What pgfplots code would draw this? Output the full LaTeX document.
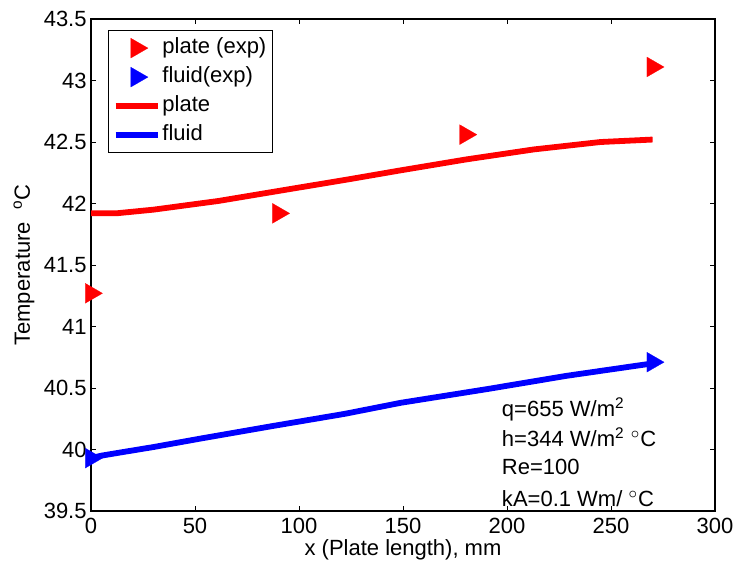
\documentclass[border=0pt]{standalone}
\usepackage{pgfplots}
\usepackage{pgfplotstable}
\pgfplotsset{compat=1.18}
\usepackage{fontspec}
\setmainfont{Liberation Sans}

\newcommand{\fs}{\fontsize{11}{13}\selectfont}

% simulated plate temperature along the plate
\pgfplotstableread{
x T
0   41.92
12  41.92
30  41.95
61  42.02
93  42.11
125 42.20
149 42.27
181 42.36
213 42.44
245 42.50
270 42.52
}\platesim

% simulated fluid temperature along the plate
\pgfplotstableread{
x T
0   39.93
5   39.95
12  39.97
30  40.02
53  40.09
87  40.19
122 40.29
149 40.38
190 40.49
229 40.60
270 40.70
}\fluidsim

% measured temperatures
\pgfplotstableread{
x T
0   41.27
90  41.92
180 42.56
270 43.11
}\plateexp

\pgfplotstableread{
x T
0   39.93
270 40.71
}\fluidexp

\pgfplotsset{
  wide legend/.style={legend image code/.code={%
    \draw[mark repeat=2,mark phase=2,##1] plot coordinates {(0pt,0pt) (10.5pt,0pt) (21pt,0pt)};}},
  tri mark/.style={only marks, mark=triangle*, mark size=5.75pt,
    mark options={rotate=-90, solid, line width=0.1pt, draw=#1, fill=#1}, color=#1},
}

\begin{document}
\begin{tikzpicture}
\begin{axis}[
  at={(0pt,0pt)}, anchor=south west,
  width=312pt, height=246pt, scale only axis,
  xmin=0, xmax=300, ymin=39.5, ymax=43.5,
  xtick={0,50,...,300},
  ytick={39.5,40,40.5,41,41.5,42,42.5,43,43.5},
  tick align=inside, xtick pos=both, ytick pos=both,
  major tick length=2.5pt,
  axis line style={line width=0.6pt},
  every tick/.style={black, line width=0.5pt},
  tick label style={font=\fs},
  /pgf/number format/assume math mode=true,
  yticklabel style={inner xsep=2pt},
  xlabel={x (Plate length), mm},
  ylabel={Temperature\ \ \textsuperscript{o}C},
  every axis x label/.style={at={(axis description cs:0.5,0)}, yshift=-19.5pt, anchor=center, font=\fs},
  every axis y label/.style={at={(axis description cs:0,0.5)}, xshift=-33.5pt, rotate=90, anchor=center, font=\fs},
  clip=false,
  legend cell align=left,
  legend style={at={(rel axis cs:0,1)}, anchor=north west, xshift=8.5pt, yshift=-5.5pt,
    draw=black, line width=0.6pt, inner xsep=2pt, inner ysep=1.5pt, row sep=0pt,
    font=\fs, nodes={inner sep=1pt, text height=9pt, text depth=3.5pt}},
]
\addplot[tri mark=red, wide legend] table[x=x, y=T] {\plateexp};
\addlegendentry{plate (exp)}
\addplot[tri mark=blue, wide legend] table[x=x, y=T] {\fluidexp};
\addlegendentry{fluid(exp)}
\addplot[red, line width=2.9pt, line join=round, no marks, wide legend] table[x=x, y=T] {\platesim};
\addlegendentry{plate}
\addplot[blue, line width=2.9pt, line join=round, no marks, wide legend] table[x=x, y=T] {\fluidsim};
\addlegendentry{fluid}

\node[anchor=base west, inner sep=0pt, font=\fs] at (axis cs:197.4,40.267) {q=655 W/m\textsuperscript{2}};
\node[anchor=base west, inner sep=0pt, font=\fs] at (axis cs:197.4,40.023) {h=344 W/m\textsuperscript{2} $^\circ$C};
\node[anchor=base west, inner sep=0pt, font=\fs] at (axis cs:197.4,39.798) {Re=100};
\node[anchor=base west, inner sep=0pt, font=\fs] at (axis cs:197.4,39.54) {kA=0.1 Wm/ $^\circ$C};
\end{axis}
\pgfresetboundingbox
\path[use as bounding box] (-45.5pt,-29pt) rectangle (323pt,255.5pt);
\end{tikzpicture}
\end{document}
